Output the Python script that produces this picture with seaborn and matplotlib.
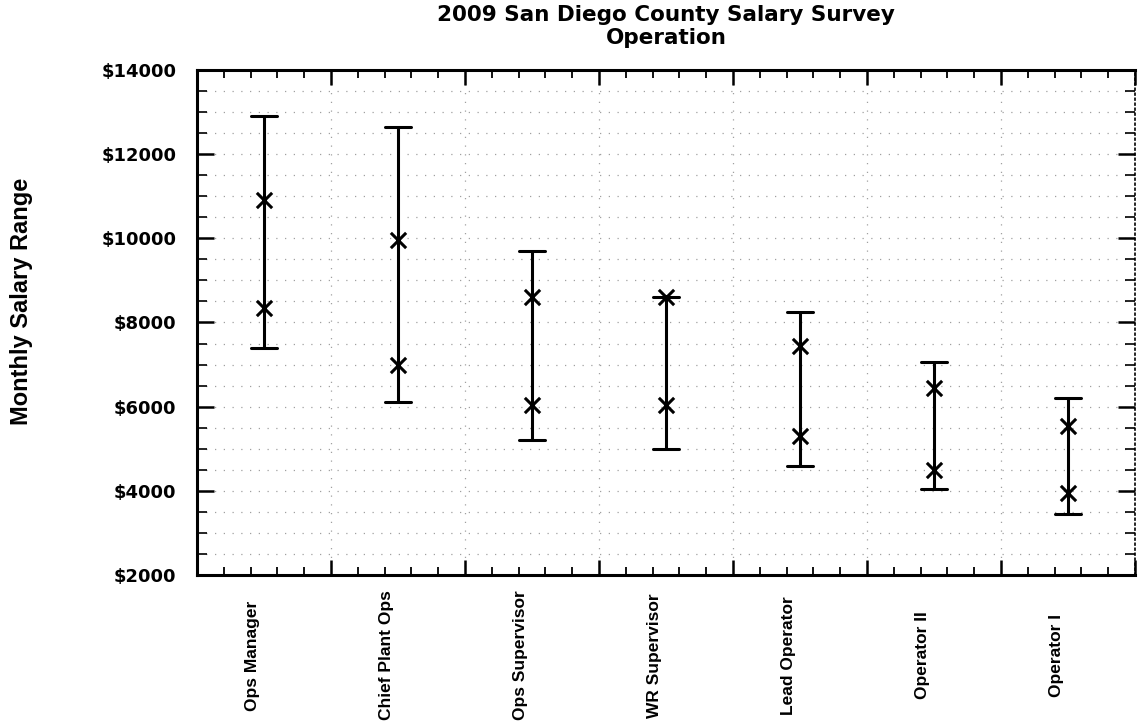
import numpy as np
import pandas as pd
import matplotlib
matplotlib.use("Agg")
import matplotlib.pyplot as plt
import matplotlib.transforms as mtransforms
from matplotlib.ticker import MultipleLocator
import seaborn as sns

# ---- data ----
categories = ["Ops Manager", "Chief Plant Ops", "Ops Supervisor", "WR Supervisor",
              "Lead Operator", "Operator II", "Operator I"]
range_min = [7400, 6100, 5200, 5000, 4600, 4050, 3450]
range_max = [12900, 12650, 9700, 8600, 8250, 7050, 6200]
avg_low = [8350, 7000, 6050, 6050, 5300, 4500, 3950]
avg_high = [10900, 9950, 8600, 8600, 7450, 6450, 5550]
y_ticks = [2000, 4000, 6000, 8000, 10000, 12000, 14000]
y_tick_labels = ["$2000", "$4000", "$6000", "$8000", "$10000", "$12000", "$14000"]
title_lines = ["2009 San Diego County Salary Survey", "Operation"]
y_title = "Monthly Salary Range"

sns.set_theme(style="white")
plt.rcParams["font.family"] = ["DejaVu Sans"]
plt.rcParams.update({"text.color": "black", "axes.labelcolor": "black",
                     "xtick.color": "black", "ytick.color": "black"})

W, H = 1140, 723
fig = plt.figure(figsize=(W / 100, H / 100), dpi=100)
L, R, T, B = 197, 1135, 70, 575
ax = fig.add_axes([L / W, 1 - B / H, (R - L) / W, (B - T) / H])

range_df = pd.DataFrame({"category": categories * 2, "salary": range_min + range_max})
sns.pointplot(data=range_df, x="category", y="salary", order=categories,
              estimator="mean", errorbar=lambda v: (v.min(), v.max()),
              capsize=0.19, color="black", linestyle="none", marker="",
              err_kws={"linewidth": 2.2}, ax=ax)

marks_df = pd.DataFrame({"category": categories * 2, "salary": avg_low + avg_high})
sns.stripplot(data=marks_df, x="category", y="salary", order=categories,
              jitter=False, marker="x", size=11, color="black", linewidth=2.2,
              ax=ax, zorder=5)

n = len(categories)
ax.set_xlim(-0.5, n - 0.5)
ax.set_ylim(y_ticks[0], y_ticks[-1])

# y axis
ax.set_yticks(y_ticks, y_tick_labels)
ax.yaxis.set_minor_locator(MultipleLocator(500))
ax.tick_params(axis="y", which="major", direction="in", length=12, width=1.8,
               left=True, right=True, labelsize=13, pad=15, colors="black")
ax.tick_params(axis="y", which="minor", direction="in", length=7, width=1.2,
               left=True, right=True, colors="black")
for lbl in ax.get_yticklabels():
    lbl.set_fontweight("bold")

# x axis: boundaries as major ticks (gridlines), categories as minor labelled ticks
boundaries = np.arange(n + 1) - 0.5
ax.set_xticks(boundaries)
ax.tick_params(axis="x", which="major", direction="in", length=11, width=1.8,
               bottom=True, top=True, labelbottom=False, colors="black")
ax.set_xticks(np.arange(n), categories, minor=True)
ax.tick_params(axis="x", which="minor", length=0, pad=58, labelsize=12.5,
               colors="black")
offset = mtransforms.ScaledTranslation(-12 / 100, 0, fig.dpi_scale_trans)
for lbl in ax.get_xticklabels(minor=True):
    lbl.set_rotation(90)
    lbl.set_va("center")
    lbl.set_ha("center")
    lbl.set_fontweight("bold")
    lbl.set_fontfamily(["Liberation Sans", "DejaVu Sans"])
    lbl.set_transform(lbl.get_transform() + offset)
ax.set_xlabel("")
ax.set_ylabel("")

# intermediate small ticks on bottom and top
inter = np.array([b + 0.2 * k for b in boundaries[:-1] for k in (1, 2, 3, 4)])
for side in ("bottom", "top"):
    sec = ax.secondary_xaxis(side)
    sec.set_xticks(inter)
    sec.tick_params(direction="in", length=6, width=1.3, colors="black",
                    labelbottom=False, labeltop=False)
    for sp in sec.spines.values():
        sp.set_visible(False)

# grid
grid_kw = dict(color="#a0a0a0", linestyle=(0, (1, 6)), linewidth=0.9)
ax.grid(axis="y", which="both", **grid_kw)
ax.grid(axis="x", which="major", **grid_kw)
ax.set_axisbelow(True)

# spines
for s in ("left", "bottom", "top"):
    ax.spines[s].set_linewidth(2.2)
    ax.spines[s].set_color("black")
ax.spines["right"].set_linewidth(1.2)
ax.spines["right"].set_linestyle((0, (1, 2)))
ax.spines["right"].set_color("black")

# titles
cx = (L + R) / 2 / W
fig.text(cx, 1 - 15 / H, title_lines[0], ha="center", va="center",
         fontsize=15.5, fontweight="bold", color="black")
fig.text(cx, 1 - 38 / H, title_lines[1], ha="center", va="center",
         fontsize=15.5, fontweight="bold", color="black")
fig.text(22 / W, 1 - 301 / H, y_title, rotation=90, ha="center", va="center",
         fontsize=17, fontweight="bold", color="black",
         family=["Liberation Sans", "DejaVu Sans"])

fig.savefig("out.png", dpi=100, facecolor="white")
